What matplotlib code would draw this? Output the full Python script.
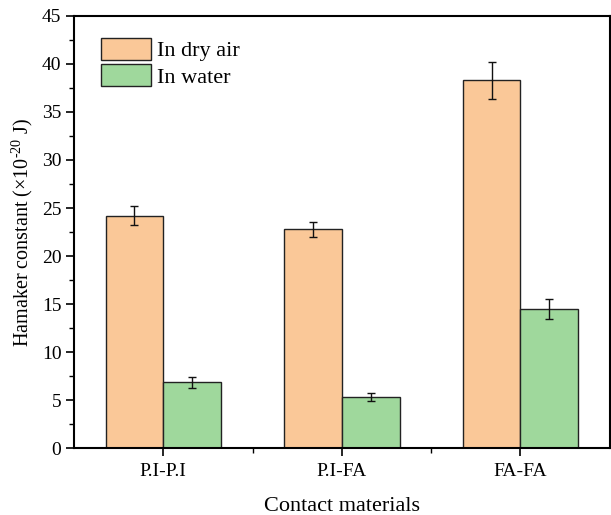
import matplotlib
matplotlib.use("Agg")
import matplotlib.pyplot as plt
import numpy as np
from matplotlib.ticker import MultipleLocator, FixedLocator

plt.rcParams['font.family'] = ['Liberation Serif', 'DejaVu Serif']
plt.rcParams['mathtext.fontset'] = 'custom'
plt.rcParams['mathtext.rm'] = 'Liberation Serif'

categories = ["P.I-P.I", "P.I-FA", "FA-FA"]
dry_air = [24.2, 22.8, 38.3]
dry_err = [1.0, 0.78, 1.95]
water = [6.85, 5.33, 14.48]
water_err = [0.6, 0.42, 1.07]

fig = plt.figure(figsize=(6.11, 5.15), dpi=100)
ax = fig.add_axes([0.121, 0.130, 0.877, 0.839])

x = np.arange(1, len(categories) + 1)
w = 0.323
ekw = dict(ecolor='#111111', elinewidth=1.0, capthick=1.0)
ax.bar(x - w/2, dry_air, w, color='#FAC898', edgecolor='#222222', linewidth=1.0,
       yerr=dry_err, capsize=3, error_kw=ekw, label='In dry air', zorder=2)
ax.bar(x + w/2, water, w, color='#9FD89C', edgecolor='#222222', linewidth=1.0,
       yerr=water_err, capsize=3, error_kw=ekw, label='In water', zorder=2)

ax.set_xlim(0.5, 3.5)
ax.set_ylim(0, 45)
ax.set_xticks(x)
ax.set_xticklabels(categories)
ax.xaxis.set_minor_locator(FixedLocator([1.5, 2.5]))
ax.yaxis.set_major_locator(MultipleLocator(5))
ax.yaxis.set_minor_locator(MultipleLocator(2.5))
ax.tick_params(axis='both', which='major', direction='out', length=6, width=1.2, labelsize=14)
ax.tick_params(axis='both', which='minor', direction='out', length=3.5, width=1.0)
ax.tick_params(axis='x', which='major', pad=5)
ax.tick_params(axis='y', which='major', pad=3)
for s in ax.spines.values():
    s.set_linewidth(1.5)

ax.set_xlabel("Contact materials", fontsize=16, labelpad=12)
ax.set_ylabel(r"Hamaker constant ($\times$10$^{\mathregular{\text{-}20}}$ J)", fontsize=14.5, labelpad=5)

leg = ax.legend(loc='upper left', bbox_to_anchor=(0.05, 0.95), frameon=False, fontsize=16,
                handlelength=2.25, handleheight=1.2, labelspacing=0.1, handletextpad=0.3,
                borderaxespad=0.0, borderpad=0.0)

fig.savefig("out.png", dpi=100)
